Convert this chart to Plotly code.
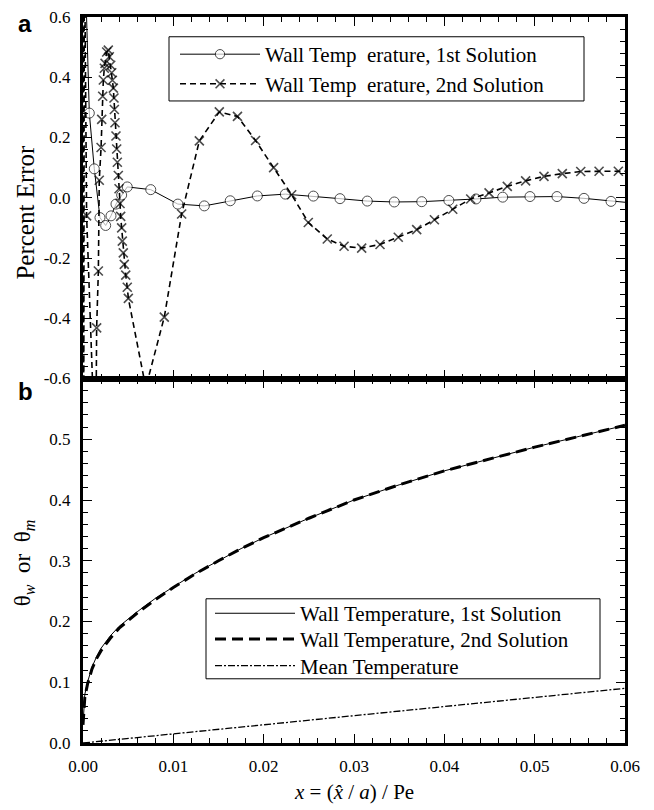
import plotly.graph_objects as go

# ---------------- Panel a: percent error ----------------
x_sol1 = [0.0003, 0.0007, 0.00125, 0.00188, 0.00251, 0.0031, 0.00365, 0.00428, 0.0049,
          0.0075, 0.0105, 0.01343, 0.0163, 0.0193, 0.0224, 0.0255, 0.02845, 0.03147,
          0.03446, 0.0375, 0.0405, 0.0435, 0.04646, 0.04948, 0.05247, 0.05546, 0.05845, 0.06]
err_sol1 = [0.7, 0.281, 0.096, -0.066, -0.092, -0.06, -0.021, 0.009, 0.036,
            0.027, -0.021, -0.027, -0.01, 0.006, 0.012, 0.0055, -0.003, -0.011,
            -0.014, -0.013, -0.009, -0.004, 0.002, 0.004, 0.004, -0.002, -0.012, -0.015]

x_sol2 = [0.00002, 0.00008, 0.00015, 0.0004, 0.0014, 0.00151, 0.0017, 0.0018, 0.0020,
          0.00207, 0.00218, 0.00225, 0.00236, 0.00244, 0.00262, 0.0028, 0.00291, 0.00307,
          0.00318, 0.00325, 0.00336, 0.00343, 0.00347, 0.00354, 0.00365, 0.00373, 0.0038,
          0.00391, 0.00399, 0.0041, 0.00417, 0.00428, 0.00435, 0.00446, 0.00457, 0.00473,
          0.0049, 0.00502, 0.00695, 0.009, 0.01092, 0.01288, 0.01509, 0.0171, 0.0191,
          0.0211, 0.0231, 0.02494, 0.02704, 0.0289, 0.03085, 0.03288, 0.0349, 0.03694,
          0.0389, 0.04093, 0.04292, 0.04495, 0.04697, 0.049, 0.05103, 0.05306, 0.0551,
          0.05713, 0.05926, 0.06]
err_sol2 = [0.9, -0.9, 0.9, -0.06, -0.9, -0.432, -0.243, 0.058, 0.167,
            0.26, 0.337, 0.391, 0.43, 0.446, 0.484, 0.49, 0.468, 0.44,
            0.415, 0.39, 0.364, 0.331, 0.293, 0.249, 0.205, 0.162, 0.118,
            0.074, 0.03, -0.019, -0.062, -0.1, -0.144, -0.183, -0.221, -0.257,
            -0.297, -0.334, -0.63, -0.396, -0.054, 0.189, 0.285, 0.27, 0.19,
            0.1, 0.01, -0.082, -0.137, -0.161, -0.167, -0.155, -0.131, -0.106,
            -0.073, -0.038, -0.004, 0.016, 0.038, 0.056, 0.071, 0.08, 0.087,
            0.088, 0.088, 0.088]

# ---------------- Panel b: temperatures ----------------
x_b = [0.0, 0.0002, 0.0005, 0.001, 0.0015, 0.002, 0.003, 0.004, 0.006, 0.008, 0.01,
       0.0125, 0.015, 0.0175, 0.02, 0.025, 0.03, 0.035, 0.04, 0.045, 0.05, 0.055, 0.06]
theta_w1 = [0.03, 0.08, 0.10, 0.125, 0.142, 0.156, 0.176, 0.192, 0.216, 0.238, 0.257,
            0.28, 0.30, 0.32, 0.338, 0.37, 0.40, 0.425, 0.448, 0.468, 0.487, 0.505, 0.523]
theta_w2 = [0.03, 0.075, 0.097, 0.122, 0.139, 0.152, 0.172, 0.189, 0.214, 0.236, 0.256,
            0.279, 0.30, 0.32, 0.338, 0.37, 0.40, 0.425, 0.448, 0.468, 0.487, 0.505, 0.523]
x_m = [0.0, 0.005, 0.01, 0.02, 0.03, 0.04, 0.05, 0.06]
theta_m = [0.0, 0.007, 0.015, 0.03, 0.045, 0.06, 0.075, 0.09]

yticks_a = [-0.6, -0.4, -0.2, 0.0, 0.2, 0.4, 0.6]
yticks_a_text = ["-0.6", "-0.4", "-0.2", "0.0", "0.2", "0.4", "0.6"]
yticks_b = [0.0, 0.1, 0.2, 0.3, 0.4, 0.5]
yticks_b_text = ["0.0", "0.1", "0.2", "0.3", "0.4", "0.5"]
xticks = [0.0, 0.01, 0.02, 0.03, 0.04, 0.05, 0.06]
xticks_text = ["0.00", "0.01", "0.02", "0.03", "0.04", "0.05", "0.06"]

SERIF = "Liberation Serif, Times New Roman, serif"
SANS = "Liberation Sans, Arial, sans-serif"

# page geometry (pixels) -> paper coordinates
W, H = 654, 810
PL, PR, PT, PB = 83, 625, 8, 743
SPLIT_PX = 374


def px_x(p):
    return (p - PL) / (PR - PL)


def px_y(p):
    return (PB - p) / (PB - PT)


fig = go.Figure()

sizes1 = [10] * len(x_sol1)
sizes1[0] = 0
sizes1[-1] = 0
fig.add_trace(go.Scatter(
    x=x_sol1, y=err_sol1, mode="lines+markers",
    name="Wall Temp\u00a0 erature, 1st Solution",
    line=dict(color="black", width=1),
    marker=dict(symbol="circle", size=sizes1, color="white",
                line=dict(color="black", width=1)),
    xaxis="x", yaxis="y", legend="legend"))

sizes2 = [9] * len(x_sol2)
sizes2[-1] = 0
fig.add_trace(go.Scatter(
    x=x_sol2, y=err_sol2, mode="lines+markers",
    name="Wall Temp\u00a0 erature, 2nd Solution",
    line=dict(color="black", width=1.6, dash="6px,4px"),
    marker=dict(symbol="x-thin", size=sizes2, color="black",
                line=dict(color="black", width=1.6)),
    xaxis="x", yaxis="y", legend="legend2"))

fig.add_trace(go.Scatter(
    x=x_b, y=theta_w1, mode="lines", name="Wall Temperature, 1st Solution",
    line=dict(color="black", width=1),
    xaxis="x2", yaxis="y2", legend="legend3"))
fig.add_trace(go.Scatter(
    x=x_b, y=theta_w2, mode="lines", name="Wall Temperature, 2nd Solution",
    line=dict(color="black", width=3, dash="11px,6px"),
    xaxis="x2", yaxis="y2", legend="legend4"))
fig.add_trace(go.Scatter(
    x=x_m, y=theta_m, mode="lines", name="Mean Temperature",
    line=dict(color="black", width=1.3, dash="7px,2px,2px,2px"),
    xaxis="x2", yaxis="y2", legend="legend5"))

axis_common = dict(
    showline=True, linecolor="black", linewidth=3, mirror="ticks",
    ticks="inside", ticklen=9, tickwidth=1.3, tickcolor="black",
    showgrid=False, zeroline=False,
    tickfont=dict(family=SERIF, size=17, color="black"),
)
minor_x = dict(dtick=0.002, ticks="inside", ticklen=5, tickwidth=1, tickcolor="black", showgrid=False)

split = px_y(SPLIT_PX)


def leg(left_px, center_px):
    return dict(x=px_x(left_px), y=px_y(center_px), xanchor="left", yanchor="middle",
                borderwidth=0, bgcolor="rgba(0,0,0,0)", itemwidth=80,
                font=dict(family=SERIF, size=21, color="black"))


fig.update_layout(
    width=W, height=H,
    margin=dict(l=PL, r=W - PR, t=PT, b=H - PB),
    paper_bgcolor="white", plot_bgcolor="white",
    font=dict(family=SERIF, color="black"),
    xaxis=dict(domain=[0, 1], anchor="y", range=[0, 0.06], tickvals=xticks,
               showticklabels=False, minor=minor_x, **axis_common),
    yaxis=dict(domain=[split, 1], anchor="x", range=[-0.6, 0.6],
               tickvals=yticks_a, ticktext=yticks_a_text, ticklabelstandoff=6,
               minor=dict(dtick=0.04, ticks="inside", ticklen=5, tickwidth=1,
                          tickcolor="black", showgrid=False),
               **axis_common),
    xaxis2=dict(domain=[0, 1], anchor="y2", range=[0, 0.06], tickvals=xticks,
                ticktext=xticks_text, ticklabelstandoff=6, minor=minor_x, **axis_common),
    yaxis2=dict(domain=[0, split], anchor="x2", range=[0, 0.6],
                tickvals=yticks_b, ticktext=yticks_b_text, ticklabelstandoff=6,
                minor=dict(dtick=0.02, ticks="inside", ticklen=5, tickwidth=1,
                           tickcolor="black", showgrid=False),
                **axis_common),
    legend=leg(175, 46),
    legend2=leg(175, 76),
    legend3=leg(210, 612),
    legend4=leg(210, 638),
    legend5=leg(210, 665),
    showlegend=True,
)

# legend frames
shapes = [
    dict(type="rect", xref="paper", yref="paper", x0=px_x(169), x1=px_x(584),
         y0=px_y(93), y1=px_y(28), line=dict(color="black", width=1), layer="above"),
    dict(type="rect", xref="paper", yref="paper", x0=px_x(206), x1=px_x(600),
         y0=px_y(678), y1=px_y(597), line=dict(color="black", width=1), layer="above"),
]
fig.update_layout(shapes=shapes)

annotations = [
    dict(text="<b>a</b>", x=px_x(25), y=px_y(15), xref="paper", yref="paper",
         xanchor="center", yanchor="middle", showarrow=False,
         font=dict(family=SANS, size=24, color="black")),
    dict(text="<b>b</b>", x=px_x(25), y=px_y(387), xref="paper", yref="paper",
         xanchor="center", yanchor="middle", showarrow=False,
         font=dict(family=SANS, size=24, color="black")),
    dict(text="Percent Error", x=px_x(26), y=px_y(206), xref="paper", yref="paper",
         xanchor="center", yanchor="middle", showarrow=False, textangle=-90,
         font=dict(family=SERIF, size=25, color="black")),
    dict(text="θ<sub><i>w</i></sub>  or  θ<sub><i>m</i></sub>", x=px_x(24),
         y=px_y(561), xref="paper", yref="paper",
         xanchor="center", yanchor="middle", showarrow=False, textangle=-90,
         font=dict(family=SERIF, size=23, color="black")),
    dict(text="<i>x</i> = (<i>x\u0302</i> / <i>a</i>) / Pe", x=0.5, y=px_y(793),
         xref="paper", yref="paper", xanchor="center", yanchor="middle", showarrow=False,
         font=dict(family=SERIF, size=21, color="black")),
]
fig.update_layout(annotations=annotations)

fig.write_html(
    "out.html",
    config={"displayModeBar": False},
    post_script="document.body.style.margin='0px';document.body.style.padding='0px';"
                "document.body.style.overflow='hidden';",
)
